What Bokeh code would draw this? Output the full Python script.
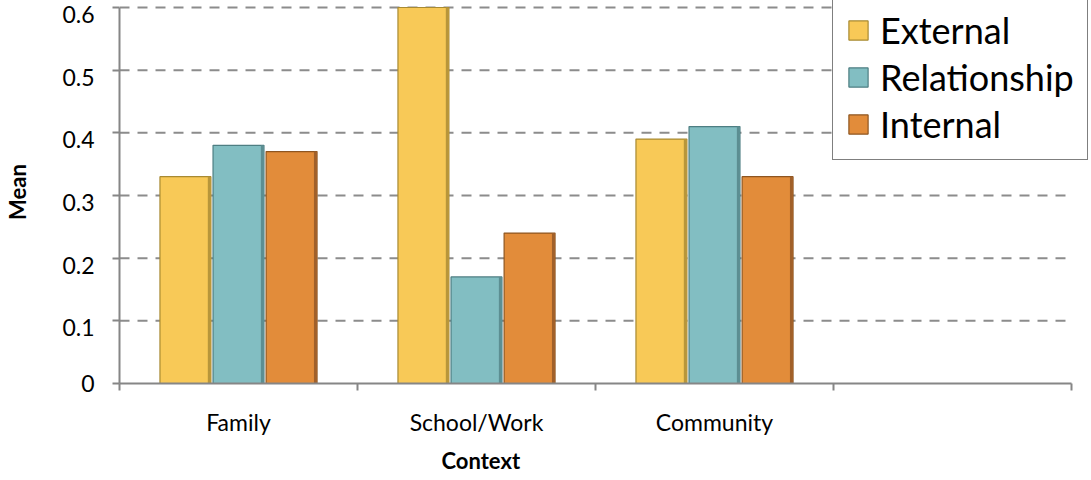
from bokeh.plotting import figure
from bokeh.models import (ColumnDataSource, Range1d, FixedTicker,
                          Legend, LegendItem, Title)
from bokeh.transform import dodge
from bokeh.embed import file_html
from bokeh.resources import INLINE

# Mean score per context, one list per series
categories = ["Family", "School/Work", "Community"]
series = ["External", "Relationship", "Internal"]
external = [0.33, 0.60, 0.39]
relationship = [0.38, 0.17, 0.41]
internal = [0.37, 0.24, 0.33]
y_ticks = [0, 0.1, 0.2, 0.3, 0.4, 0.5, 0.6]
y_tick_labels = ["0", "0.1", "0.2", "0.3", "0.4", "0.5", "0.6"]
n_slots = 4  # the category axis keeps one empty slot on the right

FONT = "Lato"
fills = ["#F8C957", "#82BEC2", "#E28C3A"]
edges = ["#A88A32", "#4D7E82", "#8E5520"]
shades = ["#B8963A", "#5C8E92", "#A0602A"]
AXIS_GREY = "#868686"

# The frame runs a little past the axes so the legend box can overhang them;
# the axes themselves stop at the data bounds.
AXIS_LEN_X, FRAME_W = 952, 972
AXIS_LEN_Y, FRAME_H = 377, 384
x_end = n_slots * FRAME_W / AXIS_LEN_X
y_end = y_ticks[-1] * FRAME_H / AXIS_LEN_Y
px_y = y_ticks[-1] / AXIS_LEN_Y          # one pixel in value units

centers = [i + 0.5 for i in range(len(categories))]
source = ColumnDataSource(dict(pos=centers, cat=categories,
                               External=external, Relationship=relationship,
                               Internal=internal))

p = figure(width=1091, height=480, output_backend="svg", toolbar_location=None,
           x_range=Range1d(0, x_end), y_range=Range1d(0, y_end),
           min_border_left=119, min_border_right=0, min_border_top=0,
           min_border_bottom=96)
p.outline_line_color = None
p.background_fill_color = "white"
p.border_fill_color = "white"

# dashed value gridlines, drawn only across the category slots
p.xgrid.visible = False
p.ygrid.visible = False
p.segment(x0=0, x1=n_slots, y0=y_ticks[1:], y1=y_ticks[1:], line_color="#8C8C8C",
          line_width=2, line_dash="10 8", level="underlay")

bar_w = 0.214
step = 0.223
renderers = []
for k, name in enumerate(series):
    off = (k - 1) * step
    r = p.vbar(x=dodge("pos", off, range=p.x_range), top=name, bottom=0, width=bar_w,
               source=source, fill_color=fills[k], line_color=edges[k], line_width=1.2)
    # darker bevel strip along the right edge of each bar
    p.vbar(x=dodge("pos", off + bar_w / 2 - 0.007, range=p.x_range), top=name, bottom=0,
           width=0.012, source=source, fill_color=shades[k], line_color=None)
    renderers.append(r)

# y axis: tick marks drawn as minor ticks on the gridlines, value labels
# hung a few pixels below them
label_pos = [y_ticks[0]] + [t - 7 * px_y for t in y_ticks[1:]]
p.yaxis.bounds = (y_ticks[0], y_ticks[-1])
p.yaxis.ticker = FixedTicker(ticks=label_pos, minor_ticks=y_ticks)
p.yaxis.major_label_overrides = {t: s for t, s in zip(label_pos, y_tick_labels)}
p.yaxis.axis_line_color = AXIS_GREY
p.yaxis.axis_line_width = 2
p.yaxis.major_tick_line_color = None
p.yaxis.major_tick_in = 0
p.yaxis.major_tick_out = 7
p.yaxis.minor_tick_line_color = AXIS_GREY
p.yaxis.minor_tick_line_width = 2
p.yaxis.minor_tick_in = 0
p.yaxis.minor_tick_out = 7
p.yaxis.major_label_standoff = 18
p.yaxis.major_label_text_font = FONT
p.yaxis.major_label_text_font_size = "23px"
p.yaxis.major_label_text_color = "black"
p.yaxis.axis_label = "Mean"
p.yaxis.axis_label_text_font = FONT
p.yaxis.axis_label_text_font_style = "bold"
p.yaxis.axis_label_text_font_size = "22px"
p.yaxis.axis_label_text_color = "black"
p.yaxis.axis_label_standoff = 28

# x axis: labels at slot centres, tick marks on slot boundaries
p.xaxis.bounds = (0, n_slots)
p.xaxis.ticker = FixedTicker(ticks=centers, minor_ticks=list(range(n_slots + 1)))
p.xaxis.major_label_overrides = {c: lab for c, lab in zip(centers, categories)}
p.xaxis.axis_line_color = AXIS_GREY
p.xaxis.axis_line_width = 2
p.xaxis.major_tick_line_color = None
p.xaxis.major_tick_in = 0
p.xaxis.major_tick_out = 0
p.xaxis.minor_tick_line_color = AXIS_GREY
p.xaxis.minor_tick_line_width = 2
p.xaxis.minor_tick_in = 0
p.xaxis.minor_tick_out = 7
p.xaxis.major_label_standoff = 17
p.xaxis.major_label_text_font = FONT
p.xaxis.major_label_text_font_size = "23px"
p.xaxis.major_label_text_color = "black"

# x-axis title, set a little left of the axis centre
x_title = Title(text="Context", align="left", offset=322, text_font=FONT,
                text_font_style="bold", text_font_size="22px", text_color="black",
                standoff=13)
p.add_layout(x_title, "below")

legend = Legend(items=[LegendItem(label=s, renderers=[r]) for s, r in zip(series, renderers)],
                location=(713, 223))
legend.label_text_font = FONT
legend.label_text_font_size = "36px"
legend.label_text_color = "black"
legend.glyph_width = 24
legend.glyph_height = 24
legend.label_standoff = 10
legend.padding = 13
legend.spacing = 3
legend.border_line_color = "black"
legend.border_line_width = 1
legend.background_fill_color = "white"
legend.background_fill_alpha = 1
legend.margin = 0
p.add_layout(legend)

open("out.html", "w").write(file_html(p, INLINE))
